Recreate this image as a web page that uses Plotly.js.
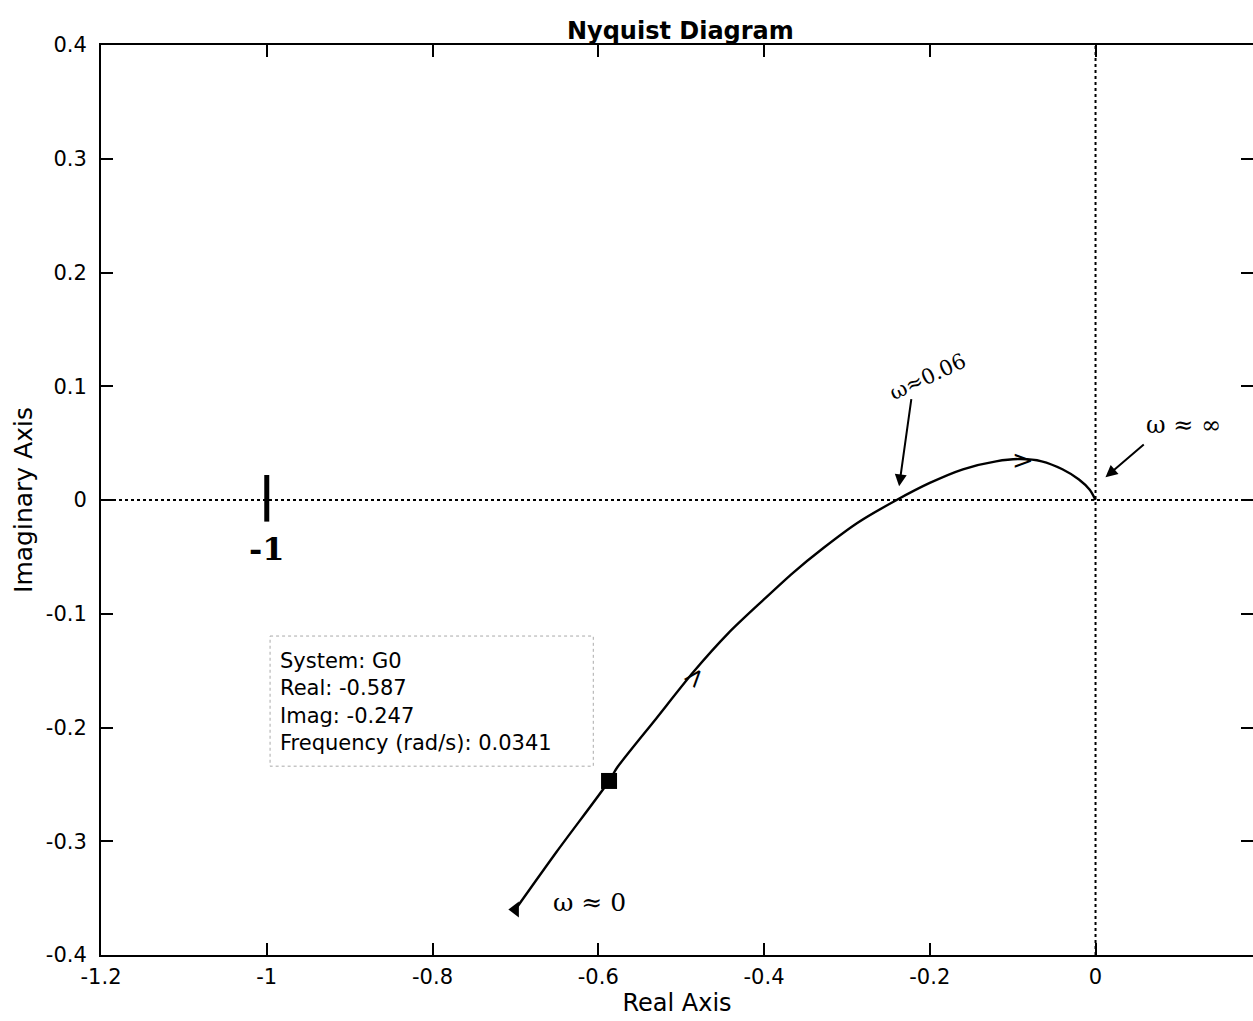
<!DOCTYPE html>
<html>
<head>
<meta charset="utf-8">
<script src="https://cdn.plot.ly/plotly-3.0.1.min.js"></script>
<style>html,body{margin:0;padding:0;background:#fff;}</style>
</head>
<body>
<div id="chart" style="width:1253px;height:1021px;"></div>
<script>
// Nyquist curve of G0
const realPart = [-0.700, -0.650, -0.587, -0.577, -0.530, -0.485, -0.443, -0.401, -0.365, -0.328, -0.287, -0.240, -0.200, -0.160, -0.120, -0.090, -0.065, -0.040, -0.020, -0.007, 0.000];
const imagPart = [-0.360, -0.309, -0.247, -0.235, -0.192, -0.151, -0.117, -0.088, -0.064, -0.042, -0.020, 0.000, 0.015, 0.027, 0.034, 0.036, 0.034, 0.027, 0.018, 0.009, 0.000];
// data tip point
const tipReal = [-0.587];
const tipImag = [-0.247];
const tipLines = ["System: G0", "Real: -0.587", "Imag: -0.247", "Frequency (rad/s): 0.0341"];
// start arrow marker
const startReal = [-0.700];
const startImag = [-0.360];
// tick values
const xTicks = [-1.2, -1, -0.8, -0.6, -0.4, -0.2, 0];
const xTickText = ["-1.2", "-1", "-0.8", "-0.6", "-0.4", "-0.2", "0"];
const yTicks = [-0.4, -0.3, -0.2, -0.1, 0, 0.1, 0.2, 0.3, 0.4];
const yTickText = ["-0.4", "-0.3", "-0.2", "-0.1", "0", "0.1", "0.2", "0.3", "0.4"];

const font = 'DejaVu Sans, Liberation Sans, Arial, sans-serif';
const hand = 'DejaVu Serif, serif';

const traces = [
  {x: realPart, y: imagPart, mode: 'lines', line: {color: '#000', width: 2.4, shape: 'spline', smoothing: 0.8}, hoverinfo: 'skip'},
  {x: tipReal, y: tipImag, mode: 'markers', marker: {symbol: 'square', size: 16, color: '#000'}, hoverinfo: 'skip'},
  {x: startReal, y: startImag, mode: 'markers', marker: {symbol: 'triangle-left', size: 14, color: '#000'}, hoverinfo: 'skip'}
];

const axisCommon = {
  showgrid: false, zeroline: false, showline: true, linecolor: '#000', linewidth: 2,
  mirror: 'ticks', ticks: 'inside', ticklen: 12, tickwidth: 2, tickcolor: '#000',
  tickfont: {family: font, size: 21, color: '#000'}, fixedrange: true
};

const layout = {
  width: 1253, height: 1021,
  margin: {l: 101, r: 0, t: 45, b: 66},
  paper_bgcolor: '#fff', plot_bgcolor: '#fff',
  showlegend: false,
  title: {text: '<b>Nyquist Diagram</b>', font: {family: font, size: 24, color: '#000'}, x: 0.543, xanchor: 'center', y: 0.97, yanchor: 'middle'},
  xaxis: Object.assign({}, axisCommon, {
    range: [-1.2, 0.19], tickvals: xTicks, ticktext: xTickText, ticklabelstandoff: 2,
    title: {text: 'Real Axis', font: {family: font, size: 24, color: '#000'}, standoff: 6}
  }),
  yaxis: Object.assign({}, axisCommon, {
    range: [-0.4, 0.4], tickvals: yTicks, ticktext: yTickText, ticklabelstandoff: 8,
    title: {text: 'Imaginary Axis', font: {family: font, size: 25, color: '#000'}, standoff: 6}
  }),
  shapes: [
    {type: 'line', xref: 'x', yref: 'y', x0: -1.2, x1: 0.19, y0: 0, y1: 0, line: {color: '#000', width: 2, dash: 'dot'}, layer: 'below'},
    {type: 'line', xref: 'x', yref: 'y', x0: 0, x1: 0, y0: -0.4, y1: 0.4, line: {color: '#000', width: 2, dash: 'dot'}, layer: 'below'},
    {type: 'line', xref: 'x', yref: 'y', x0: -1, x1: -1, y0: 0.022, y1: -0.019, line: {color: '#000', width: 5}},
    {type: 'rect', xref: 'x', yref: 'y', x0: -0.996, x1: -0.606, y0: -0.1196, y1: -0.234, line: {color: '#aaa', width: 1, dash: 'dot'}, fillcolor: 'rgba(255,255,255,0)'}
  ],
  annotations: [
    {xref: 'x', yref: 'y', x: -0.987, y: -0.178, xanchor: 'left', yanchor: 'middle', align: 'left', showarrow: false,
     text: tipLines.join('<br>'), font: {family: font, size: 21, color: '#000'}},
    {xref: 'x', yref: 'y', x: -1.0, y: -0.043, showarrow: false, text: '<b>-1</b>', font: {family: hand, size: 32, color: '#000'}},
    {xref: 'x', yref: 'y', x: -0.203, y: 0.108, showarrow: false, text: 'ω≈0.06', textangle: -25, font: {family: hand, size: 21, color: '#000'}},
    {xref: 'x', yref: 'y', x: -0.237, y: 0.012, ax: -0.222, ay: 0.09, axref: 'x', ayref: 'y', showarrow: true, text: '', arrowhead: 2, arrowsize: 1.2, arrowwidth: 2, arrowcolor: '#000'},
    {xref: 'x', yref: 'y', x: 0.106, y: 0.066, showarrow: false, text: 'ω ≈ ∞', font: {family: hand, size: 24, color: '#000'}},
    {xref: 'x', yref: 'y', x: 0.012, y: 0.02, ax: 0.06, ay: 0.05, axref: 'x', ayref: 'y', showarrow: true, text: '', arrowhead: 2, arrowsize: 1.2, arrowwidth: 2, arrowcolor: '#000'},
    {xref: 'x', yref: 'y', x: -0.61, y: -0.354, showarrow: false, text: 'ω ≈ 0', font: {family: hand, size: 25, color: '#000'}},
    {xref: 'x', yref: 'y', x: -0.484, y: -0.155, showarrow: false, text: '>', textangle: -50, font: {family: hand, size: 26, color: '#000'}},
    {xref: 'x', yref: 'y', x: -0.088, y: 0.035, showarrow: false, text: '>', textangle: 0, font: {family: hand, size: 26, color: '#000'}}
  ]
};

Plotly.newPlot('chart', traces, layout, {displayModeBar: false, staticPlot: true});
</script>
</body>
</html>
